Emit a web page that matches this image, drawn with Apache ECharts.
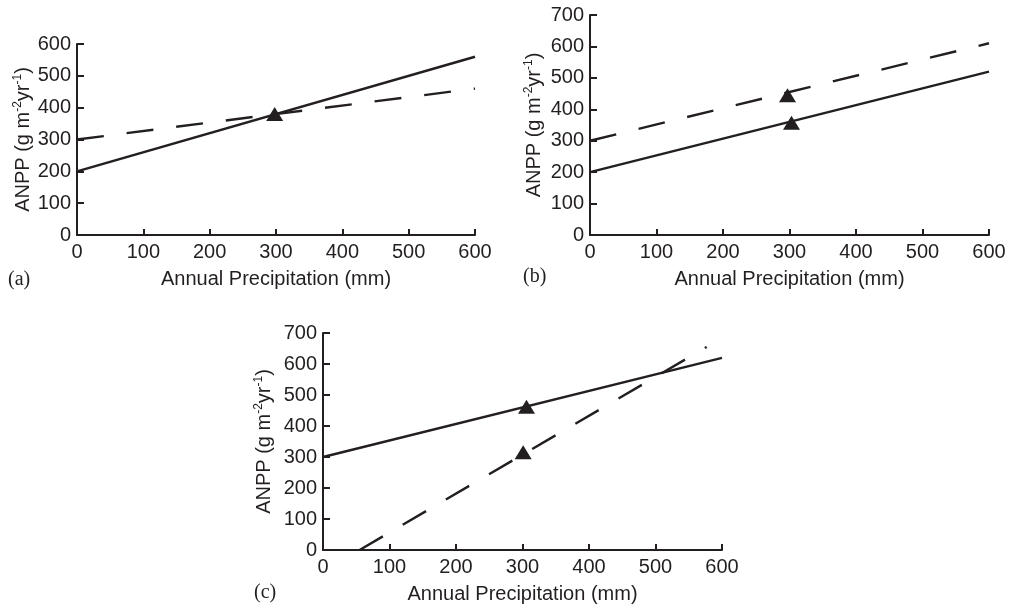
<!DOCTYPE html>
<html>
<head>
<meta charset="utf-8">
<script src="https://cdn.jsdelivr.net/npm/echarts@6.0.0/dist/echarts.min.js"></script>
<style>
  html, body { margin: 0; padding: 0; background: #fff; }
  #chart { width: 1015px; height: 607px; }
</style>
</head>
<body>
<div id="chart"></div>
<script>
// panel (a)
const solidA = [[0, 200], [600, 560]];
const dashedA = [[0, 300], [600, 460]];
const markA = [[298, 380]];
// panel (b)
const solidB = [[0, 200], [600, 520]];
const dashedB = [[0, 300], [600, 610]];
const markB = [[297, 445], [303, 357]];
// panel (c)
const solidC = [[0, 300], [600, 620]];
const dashedC = [[55, 0], [577, 655]];
const markC = [[306, 462], [301, 315]];

const yMax = [600, 700, 700];
const panelNames = ['(a)', '(b)', '(c)'];
const xTitle = 'Annual Precipitation (mm)';

const ink = '#231f20';
const sans = 'Liberation Sans, Arial, sans-serif';
const serif = 'Liberation Serif, Times New Roman, serif';

const chart = echarts.init(document.getElementById('chart'));

// grid boxes
const grids = [
  { left: 77, top: 44, width: 398, height: 191 },
  { left: 590, top: 15, width: 399, height: 220 },
  { left: 323, top: 333, width: 399, height: 217 }
];
const yNameGap = [42, 44, 47];

function xAxisFor(i) {
  return {
    type: 'value', gridIndex: i, min: 0, max: 600, interval: 100,
    name: xTitle, nameLocation: 'middle', nameGap: 34,
    nameTextStyle: { fontFamily: sans, fontSize: 20, color: ink },
    axisLine: { lineStyle: { color: ink, width: 2 } },
    axisTick: { inside: true, length: 6, lineStyle: { color: ink, width: 2 } },
    axisLabel: { fontFamily: sans, fontSize: 20, color: ink, margin: 7 },
    splitLine: { show: false }
  };
}

function yAxisFor(i) {
  return {
    type: 'value', gridIndex: i, min: 0, max: yMax[i], interval: 100,
    name: '{t|ANPP (g m}{s|-2}{t|yr}{s|-1}{t|)}',
    nameLocation: 'middle', nameGap: yNameGap[i], nameRotate: 90,
    nameTextStyle: {
      rich: {
        t: { fontFamily: sans, fontSize: 20, color: ink, lineHeight: 23 },
        s: { fontFamily: sans, fontSize: 12, color: ink, lineHeight: 13, verticalAlign: 'top' }
      }
    },
    axisLine: { lineStyle: { color: ink, width: 2 } },
    axisTick: { inside: true, length: 7, lineStyle: { color: ink, width: 2 } },
    axisLabel: { fontFamily: sans, fontSize: 20, color: ink, margin: 6 },
    splitLine: { show: false }
  };
}

function lineSeries(i, data, dashed) {
  return {
    type: 'line', xAxisIndex: i, yAxisIndex: i, data: data,
    symbol: 'none', silent: true,
    lineStyle: { color: ink, width: 2.4, type: dashed ? [27, 23] : 'solid' }
  };
}

function markSeries(i, data) {
  return {
    type: 'scatter', xAxisIndex: i, yAxisIndex: i, data: data,
    symbol: 'triangle', symbolSize: [17, 14], silent: true,
    itemStyle: { color: ink, opacity: 1 }, z: 5
  };
}

const labelSpots = [[8, 280], [523, 277], [254, 593]];

chart.setOption({
  animation: false,
  grid: grids,
  xAxis: [0, 1, 2].map(xAxisFor),
  yAxis: [0, 1, 2].map(yAxisFor),
  series: [
    lineSeries(0, solidA, false), lineSeries(0, dashedA, true), markSeries(0, markA),
    lineSeries(1, solidB, false), lineSeries(1, dashedB, true), markSeries(1, markB),
    lineSeries(2, solidC, false), lineSeries(2, dashedC, true), markSeries(2, markC)
  ],
  graphic: panelNames.map((t, i) => ({
    type: 'text', x: labelSpots[i][0], y: labelSpots[i][1],
    style: { text: t, fontFamily: serif, fontSize: 20, fill: ink, verticalAlign: 'middle' }
  }))
});
</script>
</body>
</html>
